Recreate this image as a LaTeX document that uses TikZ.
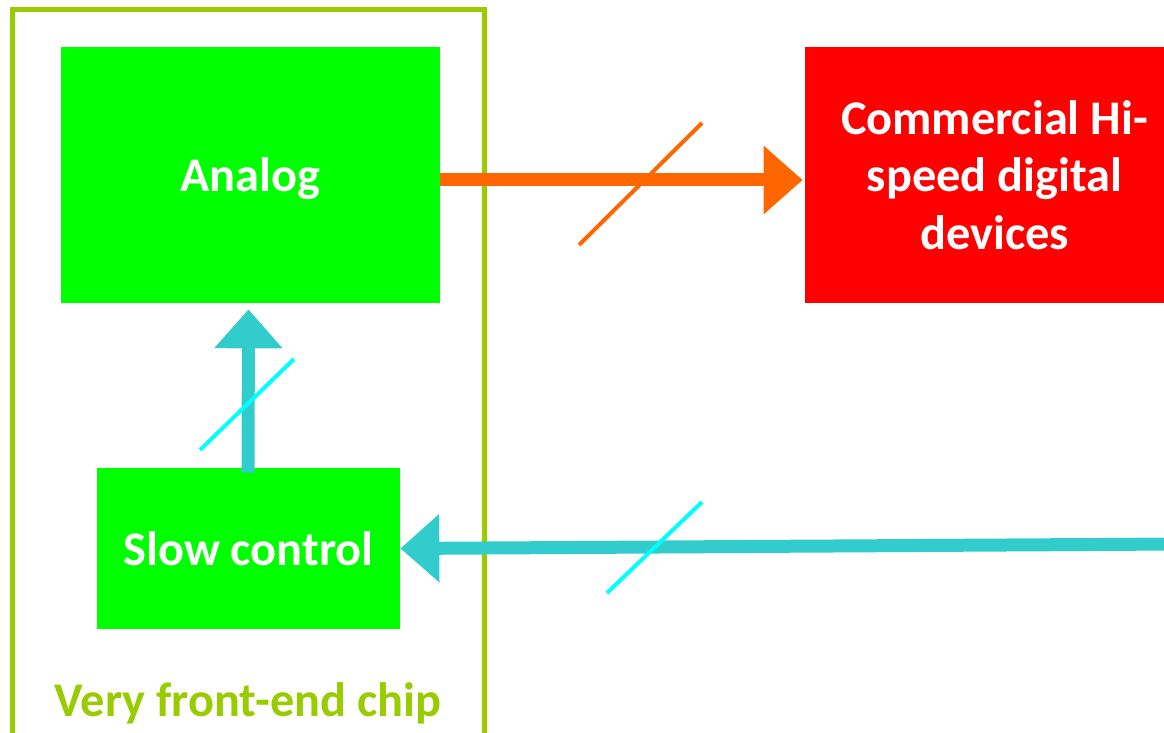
\documentclass[tikz,border=0pt]{standalone}
\usepackage{fontspec}
\setmainfont{Carlito}
\usetikzlibrary{arrows.meta,calc}
\definecolor{chipgreen}{HTML}{99CC00}
\definecolor{blockgreen}{HTML}{00FF00}
\definecolor{hsred}{HTML}{FF0000}
\definecolor{dataorange}{HTML}{FF6600}
\definecolor{sclink}{HTML}{33CCCC}
\definecolor{scslash}{HTML}{00FFFF}
\tikzset{
	block/.style={fill=#1,text=white,font=\bfseries\fontsize{27.5}{32.7}\selectfont,align=center,inner sep=0pt},
	bus/.style={#1,line width=0.26cm,-{Triangle[length=0.78cm,width=1.32cm]}},
	buswidth/.style={#1,line width=0.08cm}
}
\begin{document}
\begin{tikzpicture}[x=0.02cm,y=-0.02cm]
				  \useasboundingbox (0,0) rectangle (1164,733);
				  \clip (0,0) rectangle (1164,733);
				  %CHIP
				  \draw[chipgreen,line width=0.1cm] (12.5,750) -- (12.5,9.5) -- (484.5,9.5) -- (484.5,750);
				  \node[text=chipgreen,font=\bfseries\fontsize{27.5}{32.7}\selectfont] (chiplabel) at (248,703) {Very front-end chip};
				  %BLOCKS
				  \node[block=blockgreen,minimum width=7.58cm,minimum height=5.12cm] (Analog) at (250.5,175) {\smash{\raisebox{-0.34cm}{Analog}}};
				  \node[block=blockgreen,minimum width=6.06cm,minimum height=3.22cm] (SlowCtrl) at (248.5,548.5) {Slow control};
				  \node[block=hsred,minimum width=7.58cm,minimum height=5.12cm] (HiSpeed) at (994.5,175) {Commercial Hi-\\speed digital\\devices};
				  %DATA OUT
				  \draw[bus=dataorange] ([yshift=-0.1cm]Analog.east) -- ([shift={(-0.04cm,-0.1cm)}]HiSpeed.west);
				  \coordinate (d1) at (579,245);
				  \coordinate (d2) at (702,123);
				  \draw[buswidth=dataorange] (d1) -- (d2);
				  %SLOW CONTROL
				  \coordinate (SCin) at (1180,544);
				  \draw[bus=sclink] (SCin) -- (SlowCtrl.east);
				  \coordinate (s1) at (607,593);
				  \coordinate (s2) at (702,502);
				  \draw[buswidth=scslash] (s1) -- (s2);
				  \draw[bus=sclink] ([shift={(-0.01cm,-0.1cm)}]SlowCtrl.north) -- ([yshift=-0.12cm]SlowCtrl.north |- Analog.south);
				  \coordinate (c1) at (200,450);
				  \coordinate (c2) at (294,359);
				  \draw[buswidth=scslash] (c1) -- (c2);
\end{tikzpicture}
\end{document}
